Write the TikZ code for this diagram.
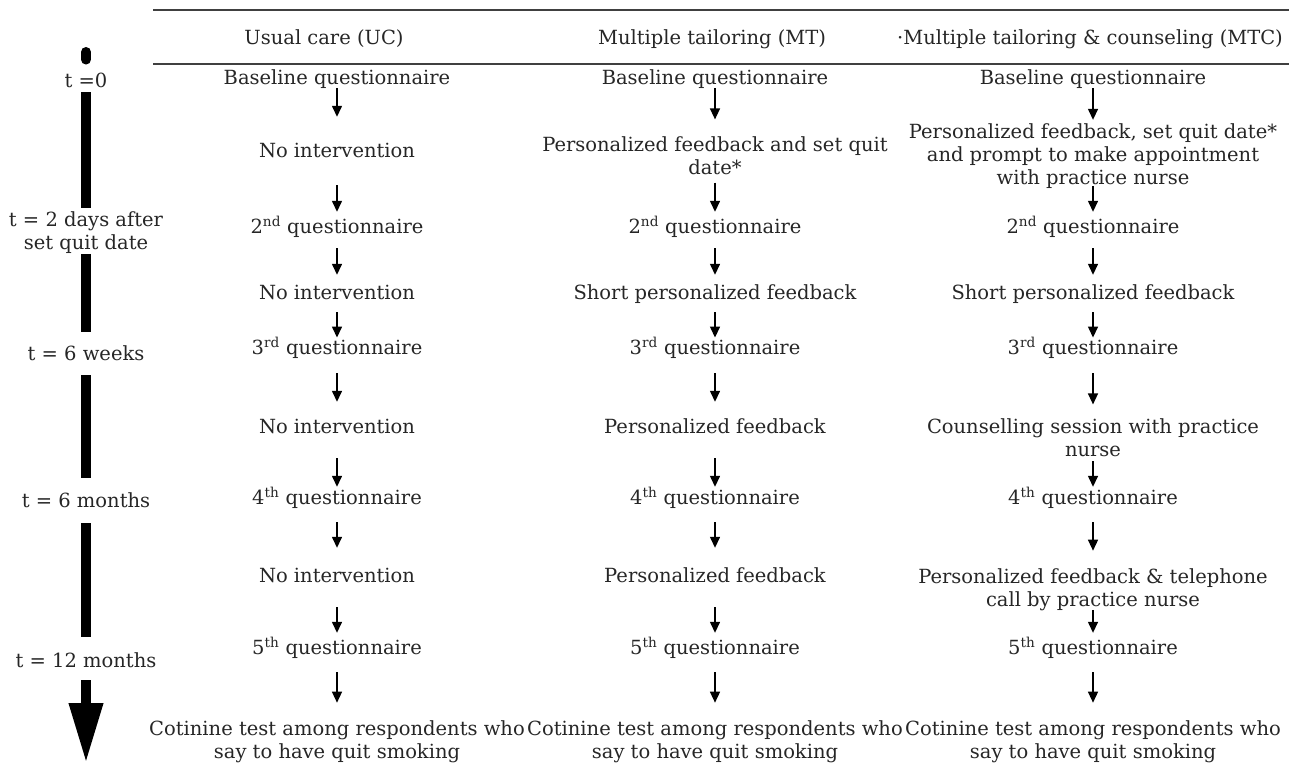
\documentclass[tikz,border=0pt]{standalone}
\usepackage{fontspec}
\setmainfont{DejaVu Serif}
\usetikzlibrary{arrows.meta}

\begin{document}
\begin{tikzpicture}[x=1pt, y=-1pt,
    cell/.style={inner sep=0pt, text=black!85, font=\fontsize{19.5}{23}\selectfont, text height=17pt, text depth=1.5pt},
    multicell/.style={inner sep=0pt, text=black!85, font=\fontsize{19.5}{23}\selectfont, align=center},
    flow/.style={-{Triangle[width=10pt,length=11pt]}, line width=1.4pt},
    timebar/.style={line width=10pt},
    rule/.style={line width=1.4pt, black!75}]
        \useasboundingbox (0,0) rectangle (1289,763);

        % header of the three groups
        \draw[rule] (153,10) -- (1289,10);
        \draw[rule] (153,64) -- (1289,64);
        \node[cell] (hUC) at (324,37) {Usual care (UC)};
        \node[cell] (hMT) at (712,37) {Multiple tailoring (MT)};
        \node[cell] (hMTC) at (1090,37) {·Multiple tailoring \& counseling (MTC)};

        % time axis
        \node[cell] (t0) at (86,80) {t =0};
        \node[multicell] (t1) at (86,232.65) {t = 2 days after\\set quit date};
        \node[cell] (t2) at (86,353) {t = 6 weeks};
        \node[cell] (t3) at (86,500) {t = 6 months};
        \node[cell] (t4) at (86,660) {t = 12 months};
        \coordinate (ttop) at (86,52);
        \coordinate (tend) at (86,763);

        \draw[timebar, line cap=round, shorten >=11pt] (ttop) -- (t0);
        \draw[timebar, shorten <=3pt, shorten >=4pt] (t0) -- (t1);
        \draw[timebar, shorten >=11.75pt] (t1) -- (t2);
        \draw[timebar, shorten <=12.75pt, shorten >=12.75pt] (t2) -- (t3);
        \draw[timebar, shorten <=13.75pt, shorten >=13.75pt] (t3) -- (t4);
        \draw[timebar, shorten <=10.75pt, -{Triangle[width=32pt,length=60pt]}] (t4) -- (tend);

        % usual care
        \node[cell] (uc0) at (337,77) {Baseline questionnaire};
        \node[cell] (uc1) at (337,150) {No intervention};
        \node[cell] (uc2) at (337,226) {2\textsuperscript{nd} questionnaire};
        \node[cell] (uc3) at (337,292) {No intervention};
        \node[cell] (uc4) at (337,347) {3\textsuperscript{rd} questionnaire};
        \node[cell] (uc5) at (337,426) {No intervention};
        \node[cell] (uc6) at (337,497) {4\textsuperscript{th} questionnaire};
        \node[cell] (uc7) at (337,575) {No intervention};
        \node[cell] (uc8) at (337,647) {5\textsuperscript{th} questionnaire};
        \node[multicell] (uc9) at (337,741.65) {Cotinine test among respondents who\\say to have quit smoking};

        % multiple tailoring
        \node[cell] (mt0) at (715,77) {Baseline questionnaire};
        \node[multicell] (mt1) at (715,155.35) {Personalized feedback and set quit\\date*};
        \node[cell] (mt2) at (715,226) {2\textsuperscript{nd} questionnaire};
        \node[cell] (mt3) at (715,292) {Short personalized feedback};
        \node[cell] (mt4) at (715,347) {3\textsuperscript{rd} questionnaire};
        \node[cell] (mt5) at (715,426) {Personalized feedback};
        \node[cell] (mt6) at (715,497) {4\textsuperscript{th} questionnaire};
        \node[cell] (mt7) at (715,575) {Personalized feedback};
        \node[cell] (mt8) at (715,647) {5\textsuperscript{th} questionnaire};
        \node[multicell] (mt9) at (715,741.65) {Cotinine test among respondents who\\say to have quit smoking};

        % multiple tailoring & counseling
        \node[cell] (mtc0) at (1093,77) {Baseline questionnaire};
        \node[multicell] (mtc1) at (1093,156.15) {Personalized feedback, set quit date*\\and prompt to make appointment\\with practice nurse};
        \node[cell] (mtc2) at (1093,226) {2\textsuperscript{nd} questionnaire};
        \node[cell] (mtc3) at (1093,292) {Short personalized feedback};
        \node[cell] (mtc4) at (1093,347) {3\textsuperscript{rd} questionnaire};
        \node[multicell] (mtc5) at (1093,437.35) {Counselling session with practice\\nurse};
        \node[cell] (mtc6) at (1093,497) {4\textsuperscript{th} questionnaire};
        \node[multicell] (mtc7) at (1093,589.65) {Personalized feedback \& telephone\\call by practice nurse};
        \node[cell] (mtc8) at (1093,647) {5\textsuperscript{th} questionnaire};
        \node[multicell] (mtc9) at (1093,741.65) {Cotinine test among respondents who\\say to have quit smoking};

        % arrows: from/to/shorten start/shorten end
        \foreach \a/\b/\s/\e in {uc0/uc1/1.75/23.75, uc1/uc2/25.75/4.75, uc2/uc3/12.75/7.75,
            uc3/uc4/10.75/0, uc4/uc5/16.75/14.75, uc5/uc6/22.75/0.75, uc6/uc7/15.75/17.75,
            uc7/uc8/22.75/4.75, uc8/uc9/15.75/17.7,
            mt0/mt1/1.75/16.7, mt1/mt2/8/4.75, mt2/mt3/12.75/7.75,
            mt3/mt4/10.75/0, mt4/mt5/16.75/14.75, mt5/mt6/22.75/0.75, mt6/mt7/15.75/17.75,
            mt7/mt8/22.75/4.75, mt8/mt9/15.75/17.7,
            mtc0/mtc1/1.75/3.7, mtc1/mtc2/-3/4.75, mtc2/mtc3/12.75/7.75,
            mtc3/mtc4/10.75/0, mtc4/mtc5/16.75/13.7, mtc5/mtc6/4.5/0.75, mtc6/mtc7/15.75/17.7,
            mtc7/mtc8/-1.1/4.75, mtc8/mtc9/15.75/17.7}
            \draw[flow, shorten <=\s pt, shorten >=\e pt] (\a) -- (\b);
\end{tikzpicture}
\end{document}
